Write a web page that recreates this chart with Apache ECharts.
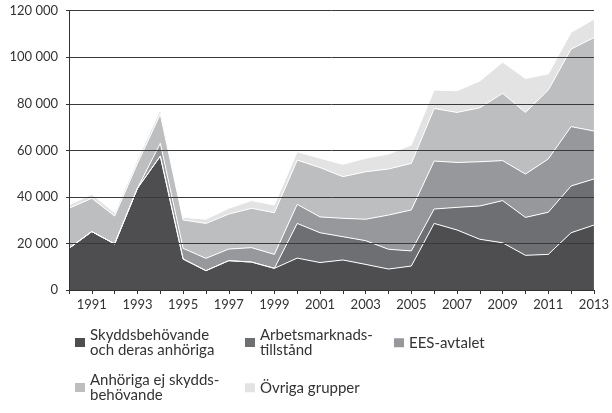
<!DOCTYPE html>
<html>
<head>
<meta charset="utf-8">
<script src="https://cdn.jsdelivr.net/npm/echarts@6/dist/echarts.min.js"></script>
<style>html,body{margin:0;padding:0;background:#fff;}#c{width:612px;height:413px;}</style>
</head>
<body>
<div id="c"></div>
<script>
var years = ['1990','1991','1992','1993','1994','1995','1996','1997','1998','1999','2000','2001','2002','2003','2004','2005','2006','2007','2008','2009','2010','2011','2012','2013'];
var skydds = [17900,25100,19800,43700,57500,13300,8300,12600,12000,9300,13700,11800,12900,11000,9000,10300,28600,25800,21800,20300,14900,15300,24600,27900];
var arbets = [0,0,0,0,0,0,0,0,0,0,14900,12800,10000,10200,8500,6500,6200,9700,14300,18100,16300,18100,20100,19800];
var ees = [0,0,0,0,5500,4600,5300,5000,6200,6000,8200,6800,7900,9200,14700,17600,20600,19300,19000,17200,18600,22900,25500,20600];
var anhoriga = [17200,14300,12000,10700,12500,12200,15000,15000,16900,17900,19000,21200,17900,20400,19800,20000,22600,21500,23200,28900,26500,29600,33300,40100];
var ovriga = [1400,1700,1400,1700,2000,1100,1800,2500,3300,3300,3600,4000,5300,5800,6400,7900,7900,9300,11500,13400,14600,6900,7200,7900];
var yTicks = [0,20000,40000,60000,80000,100000,120000];
var names = ['Skyddsbehövande\noch deras anhöriga','Arbetsmarknads-\ntillstånd','EES-avtalet','Anhöriga ej skydds-\nbehövande','Övriga grupper'];
var colors = ['#4e4e50','#6e6f72','#97989b','#bdbec0','#e3e3e4'];
var values = [skydds, arbets, ees, anhoriga, ovriga];

var FONT = 'Lato';
var series = values.map(function(v,i){
  return {
    name: names[i], type:'line', stack:'total', data:v, symbol:'none', smooth:false,
    lineStyle:{color:'#ffffff', width:1},
    itemStyle:{color:colors[i]},
    areaStyle:{color:colors[i], opacity:1},
    emphasis:{disabled:true}
  };
});

function fmt(v){ if(v===0) return '0'; var s=String(v); return s.slice(0,s.length-3)+' '+s.slice(-3); }

var legendPos = [
  {left:75, c:342.5, multi:true},
  {left:245, c:342.5, multi:true},
  {left:394, c:342.5, multi:false},
  {left:75, c:387.5, multi:true},
  {left:245, c:387.5, multi:false}
];
var LH = 14.5;
var legends = names.map(function(n,i){
  var p = legendPos[i];
  return {
    data:[{name:n, icon:'rect'}],
    left:p.left,
    top: p.multi ? p.c - 1.5*LH : p.c - LH/2,
    padding:0, itemWidth:10, itemHeight:9, itemGap:0,
    selectedMode:false,
    textStyle:{fontFamily:FONT, fontSize:15, color:'#333', lineHeight:LH, padding: p.multi ? [LH,0,0,0] : 0}
  };
});

var chart = echarts.init(document.getElementById('c'), null, {renderer:'canvas'});
chart.setOption({
  animation:false,
  backgroundColor:'#fff',
  color: colors,
  grid:{left:69, right:11.5, top:10.7, bottom:123},
  legend: legends,
  xAxis:{
    type:'category', data:years, boundaryGap:false, z:5,
    axisLine:{lineStyle:{color:'#333', width:1}},
    axisTick:{show:true, length:4, interval:0, lineStyle:{color:'#333'}},
    axisLabel:{interval:function(idx){return idx%2===1;}, fontFamily:FONT, fontSize:13, color:'#333', margin:8},
    splitLine:{show:false}
  },
  yAxis:{
    type:'value', min:0, max:120000, interval:20000, z:5,
    axisLine:{show:true, lineStyle:{color:'#333', width:1}},
    axisTick:{show:true, length:3, lineStyle:{color:'#333'}},
    axisLabel:{formatter:fmt, fontFamily:FONT, fontSize:13, color:'#333', margin:11},
    splitLine:{show:true, lineStyle:{color:'#3a3a3a', width:1}}
  },
  series: series
});
</script>
</body>
</html>
